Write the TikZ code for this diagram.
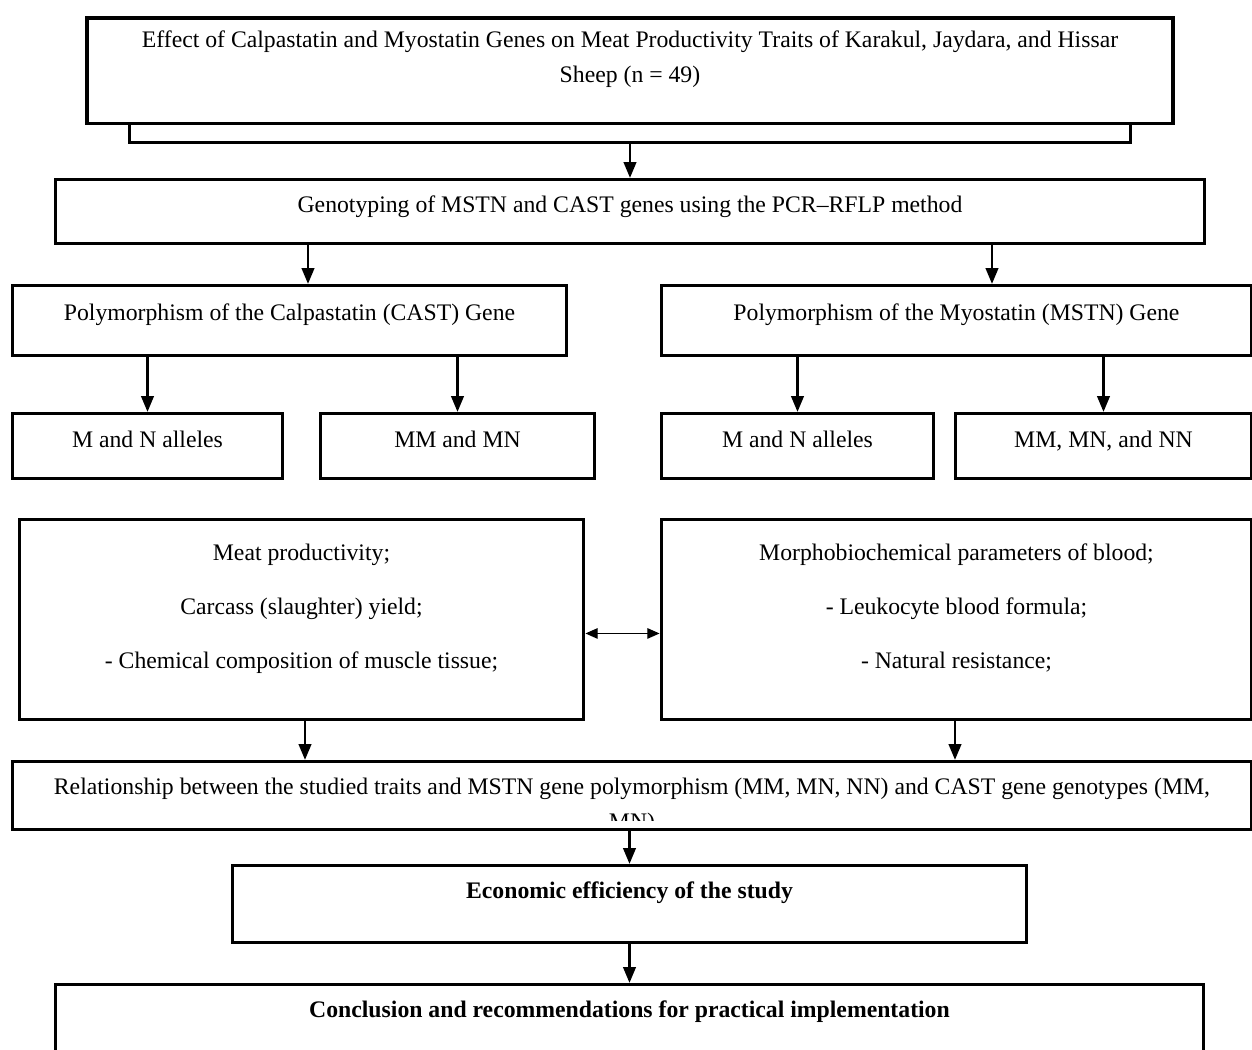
\documentclass[tikz,border=0pt]{standalone}
\usepackage{fontspec}
\setmainfont{Liberation Serif}
\usetikzlibrary{arrows.meta}

\tikzset{
  box/.style={draw, line width=1.7pt, fill=white, inner sep=0pt, align=center,
    anchor=north, font=\fontsize{13.5pt}{20pt}\selectfont},
  flow/.style={-{Triangle[length=9pt, width=7pt]}, line width=1.6pt},
  both/.style={{Triangle[length=7pt, width=6pt]}-{Triangle[length=7pt, width=6pt]}, line width=0.8pt},
}

\begin{document}
\begin{tikzpicture}[x=0.02cm, y=-0.02cm]
		\clip (0,0) rectangle (1252,1050);
		% columns of the arrows
		\coordinate (colA) at (308,0);
		\coordinate (colB) at (992,0);
		\coordinate (colC) at (305,0);
		\coordinate (colD) at (955,0);

		\node (titleback) [box, anchor=south, minimum width=20.04cm, minimum height=0.9cm] at (630,144) {};
		\node (title) [box, line width=2pt, minimum width=21.72cm, text height=1.3cm, text depth=0.82cm] at (630,16)
			{Effect of Calpastatin and Myostatin Genes on Meat Productivity Traits of Karakul, Jaydara, and Hissar\\ Sheep (n = 49)};
		\node (geno) [box, minimum width=22.98cm, text height=0.66cm, text depth=0.62cm] at (630,178)
			{Genotyping of MSTN and CAST genes using the PCR--RFLP method};

		\node (castgene) [box, minimum width=11.1cm, text height=0.7cm, text depth=0.7cm] at (289.5,284)
			{Polymorphism of the Calpastatin (CAST) Gene};
		\node (mstngene) [box, minimum width=11.82cm, text height=0.7cm, text depth=0.7cm] at (956.5,284)
			{Polymorphism of the Myostatin (MSTN) Gene};

		\node (castallele) [box, minimum width=5.42cm, text height=0.68cm, text depth=0.62cm] at (147.5,412) {M and N alleles};
		\node (castgeno) [box, minimum width=5.5cm, text height=0.68cm, text depth=0.62cm] at (457.5,412) {MM and MN};
		\node (mstnallele) [box, minimum width=5.46cm, text height=0.68cm, text depth=0.62cm] at (797.5,412) {M and N alleles};
		\node (mstngeno) [box, minimum width=5.94cm, text height=0.68cm, text depth=0.62cm] at (1103.5,412) {MM, MN, and NN};

		\node (meat) [box, minimum width=11.3cm, text height=2.98cm, text depth=1.02cm] at (301.5,518)
			{Meat productivity;\\[10.6pt] Carcass (slaughter) yield;\\[10.6pt] - Chemical composition of muscle tissue;};
		\node (blood) [box, minimum width=11.82cm, text height=2.98cm, text depth=1.02cm] at (956.5,518)
			{Morphobiochemical parameters of blood;\\[10.6pt] - Leukocyte blood formula;\\[10.6pt] - Natural resistance;};

		\node (relation) [box, minimum width=24.8cm, minimum height=1.36cm] at (632,760) {};
		\begin{scope}
			\clip ([yshift=0.2cm]relation.south west) rectangle (relation.north east);
			\node (relationtext) [box, draw=none, fill=none, text height=1.36cm] at (632,760)
				{Relationship between the studied traits and MSTN gene polymorphism (MM, MN, NN) and CAST gene genotypes (MM,\\ MN)};
		\end{scope}

		\node (economy) [box, font=\fontsize{13.5pt}{20pt}\selectfont\bfseries, minimum width=15.9cm, text height=0.66cm, text depth=0.88cm] at (629.5,864)
			{Economic efficiency of the study};
		\node (conclusion) [box, font=\fontsize{13.5pt}{20pt}\selectfont\bfseries, minimum width=22.98cm, text height=0.66cm, text depth=2cm] at (629.5,983)
			{Conclusion and recommendations for practical implementation};

		\draw[flow] (titleback.south) -- (geno.north);
		\draw[flow] (geno.south -| colA) -- (castgene.north -| colA);
		\draw[flow] (geno.south -| colB) -- (mstngene.north -| colB);
		\draw[flow] (castgene.south -| castallele) -- (castallele.north);
		\draw[flow] (castgene.south -| castgeno) -- (castgeno.north);
		\draw[flow] (mstngene.south -| mstnallele) -- (mstnallele.north);
		\draw[flow] (mstngene.south -| mstngeno) -- (mstngeno.north);

		\draw[both] ([yshift=-0.28cm]meat.east) -- ([yshift=-0.28cm]meat.east -| blood.west);

		\draw[flow] (meat.south -| colC) -- (relation.north -| colC);
		\draw[flow] (blood.south -| colD) -- (relation.north -| colD);
		\draw[flow] (relation.south -| economy) -- (economy.north);
		\draw[flow] (economy.south) -- (conclusion.north);
\end{tikzpicture}
\end{document}
